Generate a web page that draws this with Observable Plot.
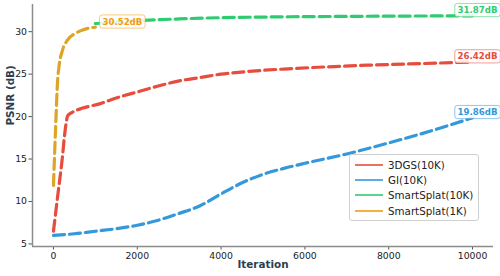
<!DOCTYPE html>
<html>
<head>
<meta charset="utf-8">
<script src="https://cdn.jsdelivr.net/npm/d3@7"></script>
<script src="https://cdn.jsdelivr.net/npm/@observablehq/plot@0.6"></script>
<style>
  body { margin: 0; background: #fff; }
  #wrap { position: relative; width: 500px; height: 276px; font-family: "DejaVu Sans", sans-serif; }
  #legend { position: absolute; left: 349px; top: 154px; width: 130px; height: 67px;
    border: 1px solid #d0d0d0; border-radius: 3px; background: rgba(255,255,255,0.85);
    font-size: 10.3px; color: #222; box-sizing: border-box; padding-top: 2px; }
  #legend .row { display: flex; align-items: center; height: 15.3px; }
  #legend .sw { width: 28px; height: 2px; margin-left: 5px; margin-right: 5px; opacity: 0.8; }
</style>
</head>
<body>
<div id="wrap"></div>
<script>
// Series names and colours
const seriesNames = ["3DGS(10K)", "GI(10K)", "SmartSplat(10K)", "SmartSplat(1K)"];
const lineColors = ["#e74c3c", "#3498db", "#2ecc71", "#dca526"];
const labelColors = ["#e74c3c", "#3498db", "#2ecc71", "#f39c12"];

// 3DGS(10K)
const redIter = [0, 100, 200, 290, 340, 450, 700, 1100, 1500, 2000, 2500, 3000, 3500, 4000, 4600, 5500, 6500, 7500, 8500, 9500, 10000];
const redPSNR = [6.5, 10.6, 14.6, 18.8, 20.1, 20.5, 21.0, 21.5, 22.2, 22.9, 23.6, 24.2, 24.6, 25.0, 25.3, 25.6, 25.85, 26.05, 26.2, 26.35, 26.42];

// GI(10K)
const blueIter = [0, 500, 1000, 1500, 2000, 2500, 3000, 3500, 4000, 4500, 5000, 5500, 6000, 7000, 8000, 9000, 10000];
const bluePSNR = [6.0, 6.2, 6.5, 6.8, 7.2, 7.8, 8.6, 9.5, 10.9, 12.2, 13.2, 13.9, 14.5, 15.6, 16.9, 18.3, 19.86];

// SmartSplat(10K)
const greenIter = [1000, 2000, 3000, 4000, 5000, 6000, 7000, 8000, 9000, 10000];
const greenPSNR = [30.95, 31.3, 31.5, 31.65, 31.72, 31.77, 31.8, 31.83, 31.85, 31.87];

// SmartSplat(1K)
const orangeIter = [0, 50, 100, 130, 215, 334, 525, 700, 880, 1000];
const orangePSNR = [11.9, 18.5, 24.3, 25.8, 27.8, 29.0, 29.8, 30.2, 30.45, 30.52];

// End labels
const labelIter = [10000, 10000, 10000, 1000];
const labelPSNR = [26.42, 19.86, 31.87, 30.52];
const labelText = ["26.42dB", "19.86dB", "31.87dB", "30.52dB"];
const labelShift = [5, 5, 5, 27];

const xTicks = [0, 2000, 4000, 6000, 8000, 10000];
const yTicks = [5, 10, 15, 20, 25, 30];

const toRows = (xs, ys, s) => xs.map((x, i) => ({x, y: ys[i], s}));
const seriesRows = [
  toRows(redIter, redPSNR, 0),
  toRows(blueIter, bluePSNR, 1),
  toRows(greenIter, greenPSNR, 2),
  toRows(orangeIter, orangePSNR, 3)
];
const labels = labelText.map((t, i) => ({x: labelIter[i], y: labelPSNR[i], t, c: labelColors[i], dx: labelShift[i]}));

const chart = Plot.plot({
  width: 500, height: 276,
  marginLeft: 32, marginRight: 7, marginTop: 4, marginBottom: 30,
  style: {fontFamily: "DejaVu Sans", fontSize: "9.3px", color: "#222", background: "#fff"},
  x: {domain: [-500, 10500]},
  y: {domain: [4.7, 33.2]},
  marks: [
    Plot.axisX({ticks: xTicks, tickFormat: d3.format("d"), tickSize: 3.5, tickPadding: 2, stroke: "#555", fill: "#222", label: null}),
    Plot.axisY({ticks: yTicks, tickSize: 3.5, tickPadding: 2, stroke: "#555", fill: "#222", label: null}),
    Plot.ruleX([-500], {stroke: "#8c8c8c", strokeWidth: 1.5}),
    Plot.ruleY([4.7], {stroke: "#8c8c8c", strokeWidth: 1.5}),
    ...seriesRows.map((rows, i) => Plot.line(rows, {
      x: "x", y: "y", stroke: lineColors[i], strokeWidth: 3.2,
      strokeDasharray: "11,5", curve: "monotone-x"
    })),
    ...labels.map(d => Plot.text([d], {
      x: "x", y: "y", text: "t", fill: d.c, dx: d.dx, dy: -5.5,
      fontWeight: "bold", fontSize: 8.6
    })),
    Plot.text(["Iteration"], {frameAnchor: "bottom", dy: 21.5, fontWeight: "bold", fontSize: 10.4, fill: "#2c3e50"}),
    Plot.text(["PSNR (dB)"], {frameAnchor: "left", dx: -22, rotate: -90, fontWeight: "bold", fontSize: 10.4, fill: "#2c3e50"})
  ]
});

const wrap = document.getElementById("wrap");
wrap.appendChild(chart);

// Rounded boxes behind the end-value labels
const svg = d3.select(chart);
svg.selectAll("text").each(function() {
  const el = this;
  const txt = el.textContent;
  const idx = labelText.indexOf(txt);
  if (idx < 0) return;
  const bb = el.getBBox();
  const padX = 2.8, padY = 1.6;
  const g = el.parentNode;
  const rect = document.createElementNS("http://www.w3.org/2000/svg", "rect");
  rect.setAttribute("x", bb.x - padX);
  rect.setAttribute("y", bb.y - padY);
  rect.setAttribute("width", bb.width + 2 * padX);
  rect.setAttribute("height", bb.height + 2 * padY);
  rect.setAttribute("rx", 2.5);
  rect.setAttribute("fill", "rgba(255,255,255,0.85)");
  rect.setAttribute("stroke", labelColors[idx]);
  rect.setAttribute("stroke-opacity", 0.55);
  rect.setAttribute("stroke-width", 1);
  const t = el.getAttribute("transform");
  if (t) rect.setAttribute("transform", t);
  g.insertBefore(rect, el);
});

// Legend
const legend = document.createElement("div");
legend.id = "legend";
seriesNames.forEach((name, i) => {
  const row = document.createElement("div");
  row.className = "row";
  const sw = document.createElement("div");
  sw.className = "sw";
  sw.style.background = labelColors[i];
  const lab = document.createElement("span");
  lab.textContent = name;
  row.appendChild(sw);
  row.appendChild(lab);
  legend.appendChild(row);
});
wrap.appendChild(legend);
</script>
</body>
</html>
